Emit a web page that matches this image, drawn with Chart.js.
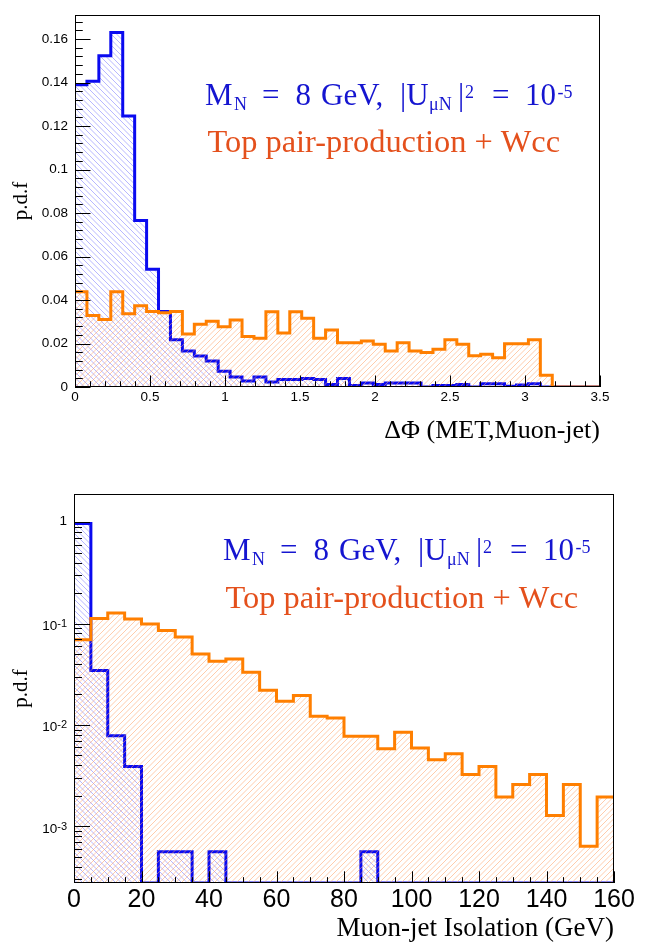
<!DOCTYPE html>
<html>
<head>
<meta charset="utf-8">
<script src="https://cdn.jsdelivr.net/npm/chart.js@4.4.1/dist/chart.umd.min.js"></script>
<style>
  html, body { margin: 0; padding: 0; background: #fff; }
  body { width: 654px; height: 945px; position: relative; overflow: hidden; }
  canvas { position: absolute; left: 0; }
  #dphiChart { top: 0; }
  #isoChart { top: 470px; }
</style>
</head>
<body>
<canvas id="dphiChart" width="654" height="460"></canvas>
<canvas id="isoChart" width="654" height="475"></canvas>
<script>
// ---- top panel: delta phi (MET, muon-jet), 44 bins over [0, 3.5]
const DPHI_RANGE = [0, 3.5];
const dphiSignal = [
  0.139, 0.1406, 0.1523, 0.163, 0.1246, 0.0766, 0.0541, 0.0347, 0.0217, 0.0165, 0.0142, 0.012, 0.0072,
  0.0046, 0.0028, 0.0046, 0.0023, 0.0034, 0.0034, 0.0039, 0.0034, 0.0012, 0.0039, 0.0007, 0.0018, 0.0012,
  0.0018, 0.0018, 0.0018, 0, 0.0007, 0.0007, 0.0012, 0, 0.0015, 0.0015, 0.0004, 0.0009, 0.0015,
  0, 0, 0, 0, 0
];
const dphiBackground = [
  0.0438, 0.0329, 0.031, 0.0438, 0.0337, 0.0374, 0.0347, 0.0341, 0.0347, 0.0244, 0.0289, 0.0302, 0.0277,
  0.0308, 0.0232, 0.0224, 0.0346, 0.0248, 0.0346, 0.0316, 0.0224, 0.0262, 0.0203, 0.0203, 0.0211, 0.0196,
  0.0166, 0.0203, 0.0165, 0.0159, 0.0174, 0.0217, 0.0196, 0.0144, 0.0151, 0.0135, 0.0199, 0.0199, 0.0217,
  0.0054, 0, 0, 0, 0
];
const DPHI_XTICKS = [0, 0.5, 1, 1.5, 2, 2.5, 3, 3.5];
const DPHI_YTICKS = [0, 0.02, 0.04, 0.06, 0.08, 0.1, 0.12, 0.14, 0.16];
const DPHI_YMAX = 0.171;

// ---- bottom panel: muon-jet isolation, 32 bins over [0, 160] GeV
const ISO_RANGE = [0, 160];
const isoSignal = [
  0.97, 0.0344, 0.00785, 0.0039, 0, 0.00056, 0.00056, 0, 0.00056, 0, 0, 0, 0, 0, 0, 0,
  0, 0.00056, 0, 0, 0, 0, 0, 0, 0, 0, 0, 0, 0, 0, 0, 0
];
const isoBackground = [
  0.0695, 0.112, 0.127, 0.111, 0.099, 0.0853, 0.0739, 0.0502, 0.0425, 0.0448, 0.0331, 0.022, 0.0171, 0.0195, 0.0122, 0.0117,
  0.00773, 0.00773, 0.00584, 0.00847, 0.00593, 0.00455, 0.00521, 0.00324, 0.0039, 0.00195, 0.00258, 0.00324, 0.00128, 0.00258, 0.000635, 0.00195
];
const ISO_XTICKS = [0, 20, 40, 60, 80, 100, 120, 140, 160];
const ISO_YTICKS = [0.001, 0.01, 0.1, 1];
const ISO_YMIN = 2.76e-4;
const ISO_YMAX = 1.9;

const SANS = "'Liberation Sans', Arial, Helvetica, sans-serif";
const SERIF = "'Liberation Serif', 'Times New Roman', serif";
const BLUE = '#0a0af0';
const ORANGE = '#ff7f00';

// histogram -> step points at bin edges (last value repeated at the upper edge)
function histPoints(values, range, floor) {
  const w = (range[1] - range[0]) / values.length;
  const pts = values.map((v, i) => ({ x: range[0] + i * w, y: floor ? Math.max(v, floor) : v }));
  pts.push({ x: range[1], y: pts[pts.length - 1].y });
  return pts;
}

function steps(lo, hi, step) {
  const out = [];
  for (let v = lo; v <= hi + step / 100; v += step) out.push(+v.toFixed(6));
  return out;
}

function logMinor(lo, hi) {
  const out = [];
  for (let e = Math.floor(Math.log10(lo)); e <= Math.ceil(Math.log10(hi)); e++)
    for (let k = 2; k <= 9; k++) {
      const v = k * Math.pow(10, e);
      if (v >= lo && v <= hi) out.push(v);
    }
  return out;
}

function hatch(color, dir) {
  const T = 11, c = document.createElement('canvas');
  c.width = c.height = T;
  const g = c.getContext('2d');
  g.strokeStyle = color;
  g.lineWidth = 0.9;
  g.beginPath();
  for (let o = -2 * T; o <= 2 * T; o += T / 2) {
    if (dir === '/') { g.moveTo(o, T); g.lineTo(o + T, 0); }
    else { g.moveTo(o, 0); g.lineTo(o + T, T); }
  }
  g.stroke();
  return g.createPattern(c, 'repeat');
}

const fmt = v => String(Math.round(v * 1000) / 1000);

// ROOT-like frame, inward ticks, log labels and the two text lines
const rootStyle = {
  id: 'rootStyle',
  afterDatasetsDraw(chart, args, o) {
    const { ctx, chartArea: a, scales: { x, y } } = chart;
    ctx.save();
    ctx.strokeStyle = '#000';
    ctx.lineWidth = 1;
    ctx.beginPath();
    const xt = (vals, len) => vals.forEach(v => {
      const px = Math.round(x.getPixelForValue(v)) + 0.5;
      ctx.moveTo(px, a.bottom); ctx.lineTo(px, a.bottom - len);
    });
    const yt = (vals, len) => vals.forEach(v => {
      const py = Math.round(y.getPixelForValue(v)) + 0.5;
      ctx.moveTo(a.left, py); ctx.lineTo(a.left + len, py);
    });
    xt(o.xMajor, o.xLen); xt(o.xMinor, o.xLen / 2);
    yt(o.yMajor, o.yLen); yt(o.yMinor, o.yLen / 2);
    ctx.stroke();
    ctx.strokeRect(Math.round(a.left) + 0.5, Math.round(a.top) + 0.5,
      Math.round(a.right - a.left) - 1, Math.round(a.bottom - a.top) - 1);
    ctx.restore();
  },
  afterDraw(chart, args, o) {
    const { ctx, chartArea: a, scales: { y } } = chart;
    ctx.save();
    ctx.fillStyle = '#000';
    if (o.logLabels) {
      const right = a.left - 7;
      o.logLabels.forEach(v => {
        const py = y.getPixelForValue(v);
        const e = Math.round(Math.log10(v));
        ctx.textAlign = 'right';
        if (e === 0) {
          ctx.font = `13.5px ${SANS}`;
          ctx.textBaseline = 'middle';
          ctx.fillText('1', right, py - 1);
        } else {
          ctx.font = `11px ${SANS}`;
          ctx.textBaseline = 'alphabetic';
          const sup = String(e);
          const w = ctx.measureText(sup).width;
          ctx.fillText(sup, right, py + 3.4);
          ctx.font = `13.5px ${SANS}`;
          ctx.textBaseline = 'middle';
          ctx.fillText('10', right - w, py + 2.5);
        }
      });
    }
    const n = o.note;
    if (n) {
      ctx.textAlign = 'left';
      ctx.textBaseline = 'alphabetic';
      const main = `31px ${SERIF}`, small = `18px ${SERIF}`;
      const parts = [
        ['M', 0, main, 0], ['N', 29, small, 5], ['=', 57, main, 0], ['8', 90.5, main, 0],
        ['GeV,', 116, main, 0], ['|U', 195, main, 0], ['\u03bcN', 224, small, 5], ['|', 253, main, 0],
        ['2', 260, small, -7], ['=', 287, main, 0], ['10', 320, main, 0], ['-5', 352.5, small, -7]
      ];
      ctx.fillStyle = '#1515d0';
      parts.forEach(([t, dx, f, dy]) => { ctx.font = f; ctx.fillText(t, n.x + dx, n.y1 + dy); });
      ctx.fillStyle = '#e4501c';
      ctx.font = `32.4px ${SERIF}`;
      ctx.fillText('Top pair-production + Wcc', n.x + 2.5, n.y2);
    }
    ctx.restore();
  }
};

function histDatasets(sig, bkg, range, floor) {
  return [
    { label: 'signal', data: histPoints(sig, range, floor), order: 1,
      borderColor: BLUE, backgroundColor: hatch('rgba(95,95,255,0.5)', '\\'),
      borderWidth: 3, fill: 'start', stepped: 'before', pointRadius: 0,
      borderJoinStyle: 'miter', borderCapStyle: 'butt' },
    { label: 'background', data: histPoints(bkg, range, floor), order: 0,
      borderColor: ORANGE, backgroundColor: hatch('rgba(255,160,100,0.6)', '/'),
      borderWidth: 3, fill: 'start', stepped: 'before', pointRadius: 0,
      borderJoinStyle: 'miter', borderCapStyle: 'butt' }
  ];
}

const yTitle = {
  display: true, text: 'p.d.f', align: 'center', color: '#000',
  font: { family: SERIF, size: 21 }, padding: { top: 9, bottom: 0 }
};

new Chart(document.getElementById('dphiChart'), {
  type: 'line',
  data: { datasets: histDatasets(dphiSignal, dphiBackground, DPHI_RANGE) },
  options: {
    responsive: false, animation: false, events: [],
    layout: { padding: { left: 0, right: 54, top: 6, bottom: 0 } },
    plugins: {
      legend: { display: false }, tooltip: { enabled: false },
      rootStyle: {
        xMajor: DPHI_XTICKS, xMinor: steps(0, 3.5, 0.1), xLen: 11.5,
        yMajor: DPHI_YTICKS, yMinor: steps(0, 0.168, 0.004), yLen: 15.5,
        note: { x: 205, y1: 105, y2: 152 }
      }
    },
    scales: {
      x: {
        type: 'linear', min: DPHI_RANGE[0], max: DPHI_RANGE[1],
        grid: { display: false, drawTicks: false }, border: { display: false },
        afterBuildTicks: s => { s.ticks = DPHI_XTICKS.map(v => ({ value: v })); },
        afterFit: s => { s.height = 73; },
        ticks: { font: { family: SANS, size: 13.5 }, color: '#000', padding: 2, maxRotation: 0, autoSkip: false, callback: fmt },
        title: { display: true, text: 'ΔΦ (MET,Muon-jet)', align: 'end', color: '#000',
          font: { family: SERIF, size: 26 }, padding: { top: 0, bottom: 13 } }
      },
      y: {
        type: 'linear', min: 0, max: DPHI_YMAX,
        grid: { display: false, drawTicks: false }, border: { display: false },
        afterBuildTicks: s => { s.ticks = DPHI_YTICKS.map(v => ({ value: v })); },
        afterFit: s => { s.width = 75; },
        ticks: { font: { family: SANS, size: 13.5 }, color: '#000', padding: 7, autoSkip: false, callback: fmt },
        title: yTitle
      }
    }
  },
  plugins: [rootStyle]
});

new Chart(document.getElementById('isoChart'), {
  type: 'line',
  data: { datasets: histDatasets(isoSignal, isoBackground, ISO_RANGE, ISO_YMIN) },
  options: {
    responsive: false, animation: false, events: [],
    layout: { padding: { left: 0, right: 40, top: 24, bottom: 0 } },
    plugins: {
      legend: { display: false }, tooltip: { enabled: false },
      rootStyle: {
        xMajor: ISO_XTICKS, xMinor: steps(0, 160, 5), xLen: 11.7,
        yMajor: ISO_YTICKS, yMinor: logMinor(ISO_YMIN, ISO_YMAX), yLen: 16,
        logLabels: ISO_YTICKS,
        note: { x: 223, y1: 90, y2: 138 }
      }
    },
    scales: {
      x: {
        type: 'linear', min: ISO_RANGE[0], max: ISO_RANGE[1],
        grid: { display: false, drawTicks: false }, border: { display: false },
        afterBuildTicks: s => { s.ticks = ISO_XTICKS.map(v => ({ value: v })); },
        afterFit: s => { s.height = 62; },
        ticks: { font: { family: SANS, size: 25 }, color: '#000', padding: 2, maxRotation: 0, autoSkip: false, callback: fmt },
        title: { display: true, text: 'Muon-jet Isolation (GeV)', align: 'end', color: '#000',
          font: { family: SERIF, size: 27 }, padding: { top: 0, bottom: 0 } }
      },
      y: {
        type: 'logarithmic', min: ISO_YMIN, max: ISO_YMAX,
        grid: { display: false, drawTicks: false }, border: { display: false },
        afterBuildTicks: s => { s.ticks = ISO_YTICKS.map(v => ({ value: v })); },
        afterFit: s => { s.width = 74; },
        ticks: { display: false },
        title: yTitle
      }
    }
  },
  plugins: [rootStyle]
});
</script>
</body>
</html>
